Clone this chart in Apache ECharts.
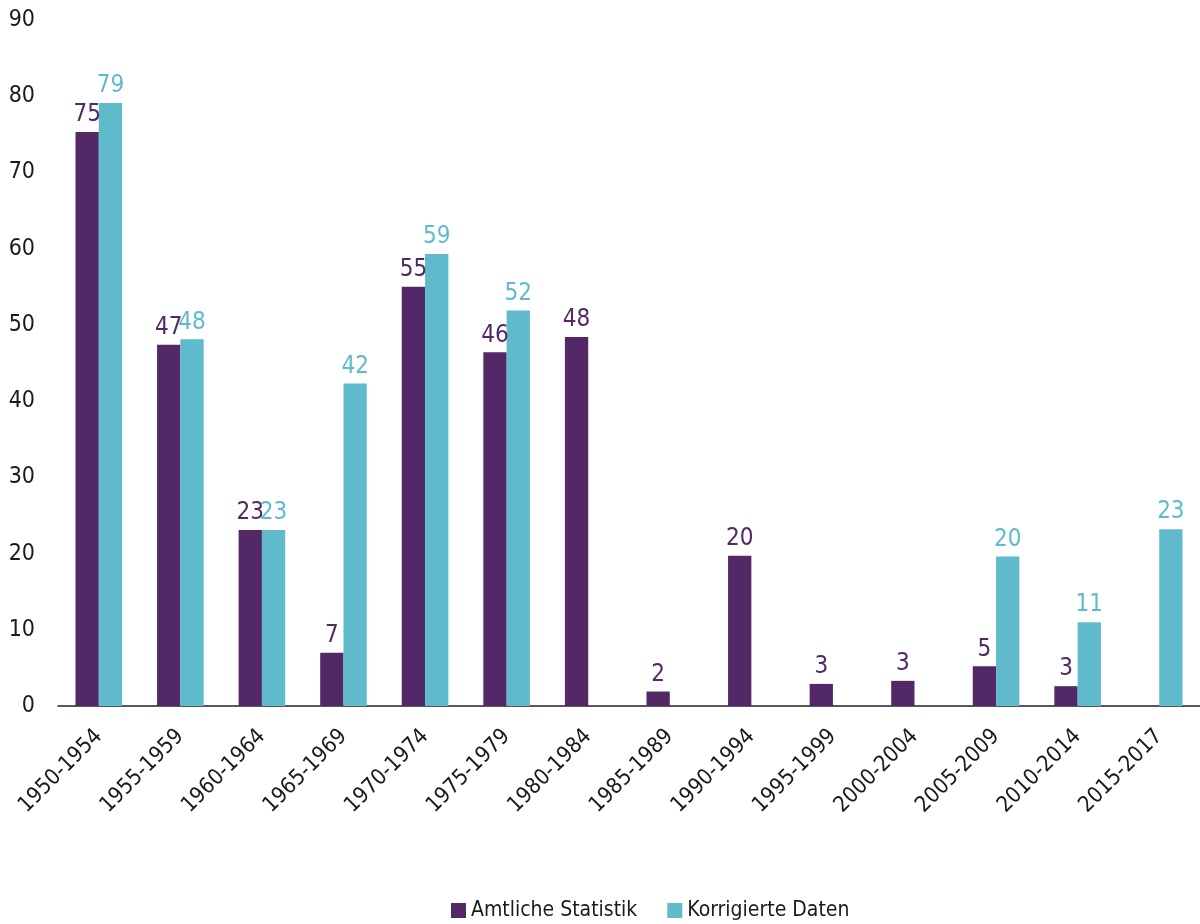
<!DOCTYPE html>
<html><head><meta charset="utf-8">
<script src="https://cdn.jsdelivr.net/npm/echarts@6/dist/echarts.min.js"></script>
<style>html,body{margin:0;padding:0;background:#fff}#c{width:1200px;height:924px}</style>
</head><body><div id="c"></div>
<script>
const categories = ['1950-1954','1955-1959','1960-1964','1965-1969','1970-1974','1975-1979','1980-1984','1985-1989','1990-1994','1995-1999','2000-2004','2005-2009','2010-2014','2015-2017'];
const amtliche = [75.3, 47.4, 23.1, 7.0, 55.0, 46.4, 48.4, 1.9, 19.7, 2.9, 3.3, 5.2, 2.6, null];
const korrigiert = [79.1, 48.1, 23.1, 42.3, 59.3, 51.9, null, null, null, null, null, 19.6, 11.0, 23.2];
const yTicks = [0, 90, 10];
const FONT = '"DejaVu Sans Condensed", "Liberation Sans Narrow", "Liberation Sans", sans-serif';
const chart = echarts.init(document.getElementById('c'));
const labelFmt = p => p.value == null ? '' : Math.round(p.value);
chart.setOption({
  animation: false,
  textStyle: {fontFamily: FONT},
  grid: {left: 58, right: 0, top: 20, bottom: 218, containLabel: false},
  legend: {
    left: 446, top: 895, itemWidth: 15, itemHeight: 15, itemGap: 30,
    icon: 'rect',
    textStyle: {fontFamily: FONT, fontSize: 21, color: '#1a1a1a'},
    data: ['Amtliche Statistik', 'Korrigierte Daten']
  },
  xAxis: {
    type: 'category', data: categories,
    axisLine: {lineStyle: {color: '#222', width: 1.5}},
    axisTick: {show: false},
    axisLabel: {rotate: 45, fontSize: 22, color: '#1a1a1a', fontFamily: FONT, margin: 27, interval: 0}
  },
  yAxis: {
    type: 'value', min: yTicks[0], max: yTicks[1], interval: yTicks[2],
    splitLine: {show: false}, axisLine: {show: false}, axisTick: {show: false},
    axisLabel: {fontSize: 23, color: '#1a1a1a', fontFamily: FONT, margin: 23}
  },
  series: [
    {name: 'Amtliche Statistik', type: 'bar', data: amtliche, barWidth: 23.3, barGap: '0%',
     itemStyle: {color: '#532866'},
     label: {show: true, position: 'top', distance: 5, formatter: labelFmt, color: '#532866', fontSize: 24, fontFamily: FONT}},
    {name: 'Korrigierte Daten', type: 'bar', data: korrigiert, barWidth: 23.3, barGap: '0%',
     itemStyle: {color: '#5FBBCB'},
     label: {show: true, position: 'top', distance: 5, formatter: labelFmt, color: '#5FBBCB', fontSize: 24, fontFamily: FONT}}
  ]
});
</script></body></html>
